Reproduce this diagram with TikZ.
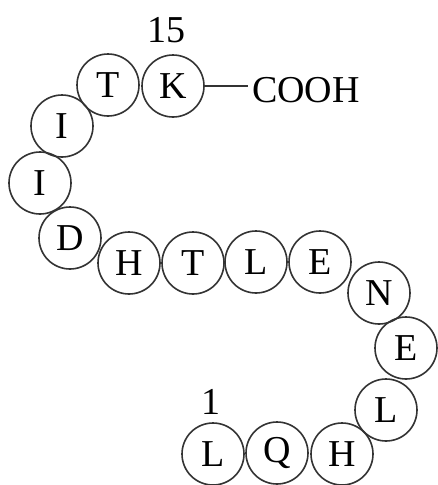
\documentclass[tikz,border=0pt]{standalone}
\usepackage{fontspec}
\setmainfont{Liberation Serif}
\begin{document}
\begin{tikzpicture}[x=1pt,y=-1pt,
  aa/.style={circle,draw=black!80,line width=1.6pt,minimum size=62pt,inner sep=0pt,font=\fontsize{38}{38}\selectfont},
  lbl/.style={inner sep=0pt,font=\fontsize{38}{38}\selectfont}]
\useasboundingbox (0,0) rectangle (437,485);
\node[aa] (l1) at (213,454) {L};
\node[aa] (q2) at (277,453) {Q};
\node[aa] (h3) at (342,454) {H};
\node[aa] (l4) at (386,410) {L};
\node[aa] (e5) at (406,348) {E};
\node[aa] (n6) at (379,293) {N};
\node[aa] (e7) at (320,262) {E};
\node[aa] (l8) at (256,262) {L};
\node[aa] (t9) at (193,263) {T};
\node[aa] (h10) at (129,263) {H};
\node[aa] (d11) at (70,238) {D};
\node[aa] (i12) at (40,183) {I};
\node[aa] (i13) at (62,126) {I};
\node[aa] (t14) at (108,85) {T};
\node[aa] (k15) at (173,86) {K};
\node[lbl] (n1) at (211,402) {1};
\node[lbl] (n15) at (166,30) {15};
\node[lbl,anchor=west] (cooh) at (252,90) {COOH};
\draw[black!80,line width=1.6pt] (k15.east) -- ([xshift=-4pt]cooh.west |- k15.east);
\end{tikzpicture}
\end{document}
